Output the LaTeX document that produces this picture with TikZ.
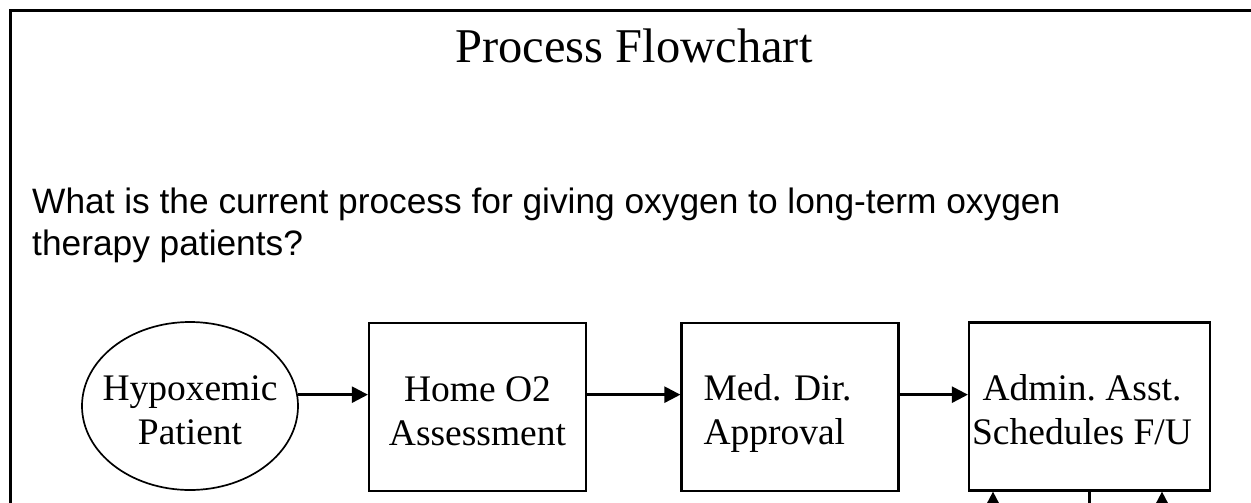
\documentclass[tikz,border=0pt]{standalone}
\usepackage{fontspec}
\setmainfont{Liberation Serif}
\newfontfamily\arialfont{Liberation Sans}
\usetikzlibrary{arrows.meta,shapes.geometric}
\newcommand\myTopStrut{\rule{0pt}{33pt}}
\newcommand\myTopStrutB{\rule{0pt}{39pt}}
\newcommand\myPad{\hspace*{15pt}}
\frenchspacing
\begin{document}
\begin{tikzpicture}[x=1pt,y=-1pt,
  frameline/.style={line width=3pt},
  boxfont/.style={font=\fontsize{37.5}{44}\selectfont,align=center},
  procbox/.style={draw,line width=2.2pt,rectangle,minimum width=217pt,minimum height=168pt,inner sep=0pt,boxfont},
  startell/.style={draw,line width=1.7pt,ellipse,minimum width=216pt,minimum height=168pt,inner sep=0pt},
  arr/.style={line width=2.5pt,-{Triangle[length=16pt,width=16pt]}},
  plain/.style={line width=2.5pt}]
\useasboundingbox (0,0) rectangle (1251,503);
\fill[white] (0,0) rectangle (1251,503);
% frame
\coordinate (fc) at (10.5,10.5);
\coordinate (fr) at (1260,10.5);
\coordinate (fb) at (10.5,520);
\draw[frameline] (fr) -- (fc) -- (fb);
% title
\node[anchor=base,inner sep=0pt,font=\fontsize{48.5}{55}\selectfont] (title) at (634,63) {Process Flowchart};
% question
\node[anchor=north west,inner sep=0pt,align=left,font=\arialfont\fontsize{35.3}{42}\selectfont] (q) at (32,187.5)
  {What is the current process for giving oxygen to long-term oxygen\\therapy patients?};
% nodes
\node[startell,label={[boxfont,inner sep=0pt]center:\myTopStrut Hypoxemic\\Patient}] (ell) at (190,406) {};
\node[procbox] (b1) at (477.5,407) {\myTopStrut Home O2\\Assessment};
\node[procbox,text width=173pt,align=left] (b2) at (790,407) {\myTopStrutB Med. Dir.\\Approval};
\node[procbox,minimum width=241pt] (b3) at (1089.5,406.5) {\myTopStrut Admin. Asst.\myPad\\Schedules F/U\myPad};
% connectors
\coordinate (a0) at (ell.6.4);
\draw[arr] (a0) -- (a0 -| b1.west);
\draw[arr] (b1.east |- a0) -- (b2.west |- a0);
\draw[arr] (b2.east |- a0) -- (b3.west |- a0);
% bottom connectors
\coordinate (u1) at (993,540);
\coordinate (u2) at (1162,540);
\coordinate (d1) at (1089.5,540);
\draw[arr] (u1) -- (u1 |- b3.south);
\draw[arr] (u2) -- (u2 |- b3.south);
\draw[plain] (b3.south) -- (d1);
\end{tikzpicture}
\end{document}
